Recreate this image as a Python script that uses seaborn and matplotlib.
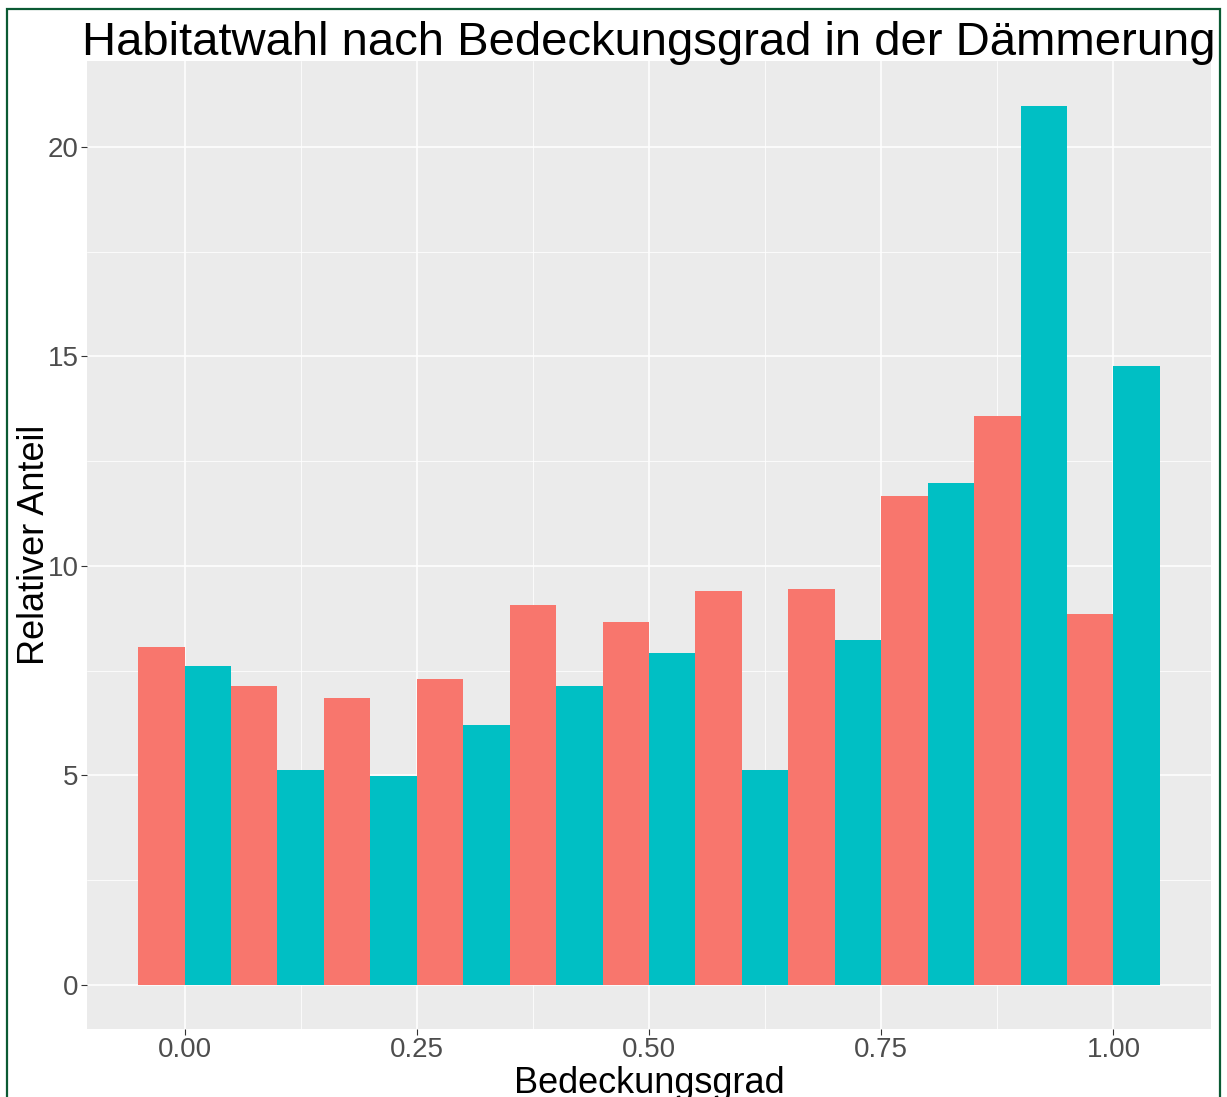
import pandas as pd
import matplotlib.pyplot as plt
import seaborn as sns
from matplotlib.patches import Rectangle
from matplotlib.ticker import MultipleLocator

# Bedeckungsgrad-Klassen und relative Anteile der beiden Gruppen
bedeckung = [0.0, 0.1, 0.2, 0.3, 0.4, 0.5, 0.6, 0.7, 0.8, 0.9, 1.0]
anteil_rot = [8.07, 7.14, 6.86, 7.31, 9.07, 8.67, 9.40, 9.45, 11.67, 13.57, 8.86]
anteil_tuerkis = [7.62, 5.14, 4.98, 6.21, 7.14, 7.93, 5.14, 8.24, 11.98, 20.98, 14.76]
gruppen = ["Gruppe 1", "Gruppe 2"]

df = pd.DataFrame({
    "Bedeckungsgrad": bedeckung * 2,
    "Anteil": anteil_rot + anteil_tuerkis,
    "Gruppe": [gruppen[0]] * len(bedeckung) + [gruppen[1]] * len(bedeckung),
})

sns.set_theme(style="darkgrid", rc={
    "axes.facecolor": "#EBEBEB",
    "grid.color": "white",
    "axes.edgecolor": "none",
})
plt.rcParams["font.family"] = ["Liberation Sans", "DejaVu Sans"]

fig = plt.figure(figsize=(12.27, 10.97), dpi=100)
ax = fig.add_axes([87 / 1227, 1 - 1029 / 1097, (1211 - 87) / 1227, (1029 - 61) / 1097])

sns.barplot(data=df, x="Bedeckungsgrad", y="Anteil", hue="Gruppe",
            palette=["#F8766D", "#00BFC4"], saturation=1, native_scale=True,
            width=1.0, gap=0, errorbar=None, linewidth=0, legend=False, ax=ax)

ax.set_xlim(-0.105, 1.105)
ax.set_ylim(-1.05, 22.05)
ax.xaxis.set_major_locator(MultipleLocator(0.25))
ax.xaxis.set_minor_locator(MultipleLocator(0.125))
ax.yaxis.set_major_locator(MultipleLocator(5))
ax.yaxis.set_minor_locator(MultipleLocator(2.5))
ax.set_xticks([0, 0.25, 0.5, 0.75, 1.0], ["0.00", "0.25", "0.50", "0.75", "1.00"])
ax.set_yticks([0, 5, 10, 15, 20], ["0", "5", "10", "15", "20"])
ax.grid(which="major", color="white", linewidth=1.1)
ax.grid(which="minor", color="white", linewidth=0.55)
ax.set_axisbelow(True)
ax.tick_params(which="major", length=4, width=0.8, color="#333333",
               labelsize=20, labelcolor="#4D4D4D", pad=2, left=True, bottom=True)
ax.tick_params(which="minor", length=0)

ax.set_xlabel("Bedeckungsgrad", fontsize=26, color="black", labelpad=2)
ax.set_ylabel("Relativer Anteil", fontsize=26, color="black", labelpad=-3)
ax.set_title("Habitatwahl nach Bedeckungsgrad in der Dämmerung",
             fontsize=34, color="black", pad=4)

# dunkelgrüner Rahmen um die Grafik
fig.patches.append(Rectangle((7 / 1227, -0.02), (1220 - 7) / 1227, 1.02 - 9 / 1097,
                             transform=fig.transFigure, fill=False,
                             edgecolor="#0B5A33", linewidth=1.6))

fig.savefig("out.png", dpi=100)
